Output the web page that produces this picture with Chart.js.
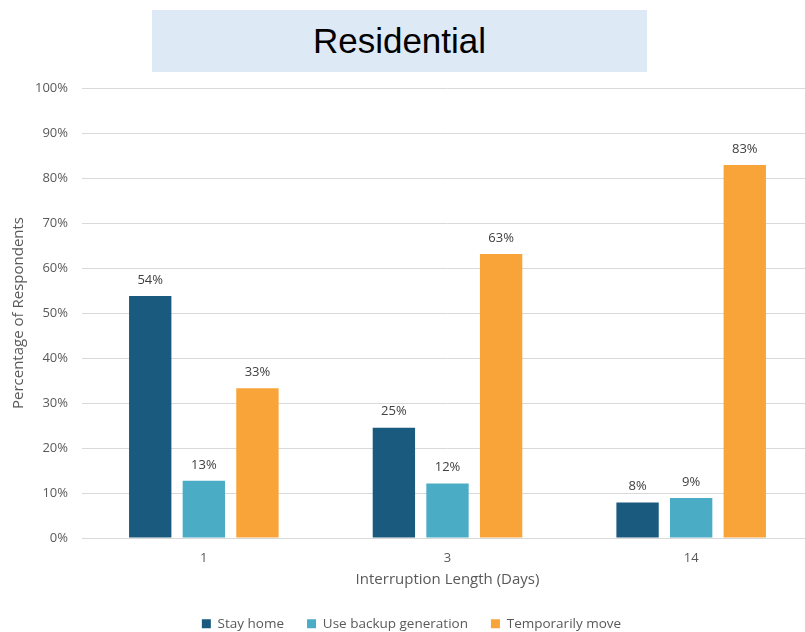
<!DOCTYPE html>
<html>
<head>
<meta charset="utf-8">
<script src="https://cdn.jsdelivr.net/npm/chart.js@4/dist/chart.umd.min.js"></script>
<style>
  html, body { margin: 0; padding: 0; background: #fff; overflow: hidden; }
  #wrap { position: relative; width: 805px; height: 632px; overflow: hidden; }
  #chart { position: absolute; left: 0; top: 0; }
  .title-box {
    position: absolute; left: 152px; top: 10px; width: 495px; height: 62px;
    background: #dde9f5; z-index: 2;
    font-family: "Liberation Sans", Arial, sans-serif; font-size: 35px; color: #000;
    display: flex; align-items: center; justify-content: center;
  }
</style>
</head>
<body>
<div id="wrap">
  <div class="title-box">Residential</div>
  <canvas id="chart" width="813" height="640"></canvas>
</div>
<script>
// Chart data
const categories = ['1', '3', '14'];
const stayHome = [53.8, 24.5, 7.9];
const backupGeneration = [12.7, 12.1, 8.9];
const temporarilyMove = [33.3, 63.1, 82.9];
const yTicks = [0, 10, 20, 30, 40, 50, 60, 70, 80, 90, 100];

const FONT = '"Open Sans", "Segoe UI", sans-serif';
const GREY = '#595959';

/**
 * Draw value labels above each bar
 */
const barLabels = {
    id: 'barLabels',
    afterDatasetsDraw(chart) {
        const ctx = chart.ctx;
        ctx.save();
        ctx.font = '13px ' + FONT;
        ctx.fillStyle = '#404040';
        ctx.textAlign = 'center';
        ctx.textBaseline = 'middle';
        chart.data.datasets.forEach((ds, i) => {
            chart.getDatasetMeta(i).data.forEach((bar, j) => {
                ctx.fillText(Math.round(ds.data[j]) + '%', bar.x, bar.y - 16);
            });
        });
        ctx.restore();
    }
};

document.addEventListener('DOMContentLoaded', function() {
    const canvas = document.getElementById('chart');

    new Chart(canvas, {
        type: 'bar',
        data: {
            labels: categories,
            datasets: [
                { label: 'Stay home', data: stayHome, backgroundColor: '#1a5a7e' },
                { label: 'Use backup generation', data: backupGeneration, backgroundColor: '#4bacc6' },
                { label: 'Temporarily move', data: temporarilyMove, backgroundColor: '#f9a438' }
            ]
        },
        options: {
            responsive: false,
            animation: false,
            layout: { padding: { top: 88, left: 10, right: 0, bottom: 0 } },
            datasets: {
                bar: { categoryPercentage: 0.66, barPercentage: 0.79 }
            },
            plugins: {
                legend: {
                    position: 'bottom',
                    maxHeight: 46,
                    labels: {
                        boxWidth: 9, boxHeight: 9, padding: 23,
                        color: GREY, font: { family: FONT, size: 13.5 }
                    }
                },
                tooltip: { enabled: false }
            },
            scales: {
                x: {
                    afterFit: function(scale) { scale.height = 56; },
                    grid: { display: false, drawTicks: false },
                    border: { display: true, color: '#d9d9d9' },
                    ticks: { color: GREY, font: { family: FONT, size: 13 }, padding: 12 },
                    title: {
                        display: true, text: 'Interruption Length (Days)',
                        color: GREY, font: { family: FONT, size: 15 },
                        padding: { top: 0, bottom: 5 }
                    }
                },
                y: {
                    min: 0, max: 100,
                    afterFit: function(scale) { scale.width = 72; },
                    afterBuildTicks: function(scale) {
                        scale.ticks = yTicks.map(v => ({ value: v }));
                    },
                    grid: { color: '#d9d9d9', drawTicks: false },
                    border: { display: false },
                    ticks: {
                        color: GREY, font: { family: FONT, size: 13 }, padding: 14,
                        callback: v => v + '%'
                    },
                    title: {
                        display: true, text: 'Percentage of Respondents',
                        color: GREY, font: { family: FONT, size: 15 },
                        padding: { top: 0, bottom: 0 }
                    }
                }
            }
        },
        plugins: [barLabels]
    });
});
</script>
</body>
</html>
